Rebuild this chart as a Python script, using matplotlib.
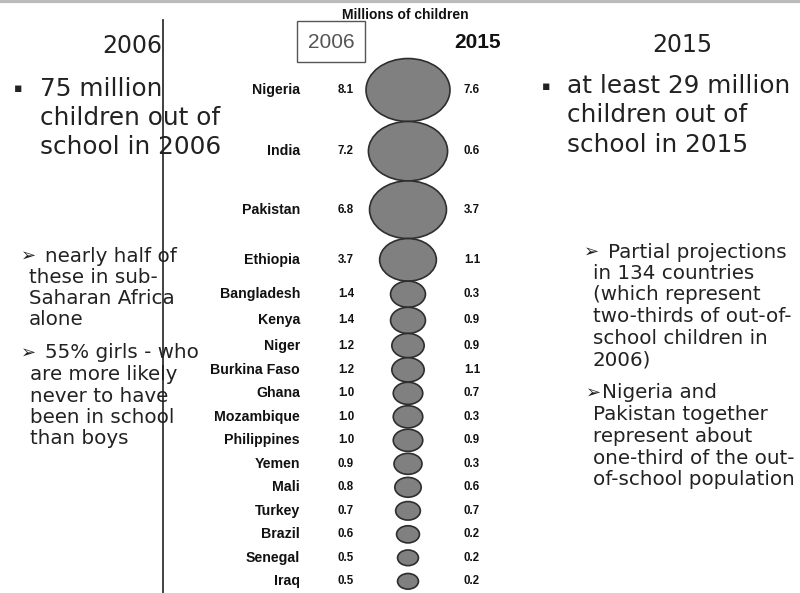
import numpy as np
import matplotlib.pyplot as plt
from matplotlib.patches import Ellipse, Rectangle

# dati: bambini fuori dalla scuola (milioni)
countries = ["Nigeria", "India", "Pakistan", "Ethiopia", "Bangladesh", "Kenya", "Niger",
             "Burkina Faso", "Ghana", "Mozambique", "Philippines", "Yemen", "Mali",
             "Turkey", "Brazil", "Senegal", "Iraq"]
oos_2006 = [8.1, 7.2, 6.8, 3.7, 1.4, 1.4, 1.2, 1.2, 1.0, 1.0, 1.0, 0.9, 0.8, 0.7, 0.6, 0.5, 0.5]
oos_2015 = [7.6, 0.6, 3.7, 1.1, 0.3, 0.9, 0.9, 1.1, 0.7, 0.3, 0.9, 0.3, 0.6, 0.7, 0.2, 0.2, 0.2]

title = "Millions of children"
year_a = "2006"
year_b = "2015"

left_main = ["75 million", "children out of", "school in 2006"]
left_sub1 = ["nearly half of", "these in sub-", "Saharan Africa", "alone"]
left_sub2 = ["55% girls - who", "are more likely", "never to have", "been in school", "than boys"]
right_main = ["at least 29 million", "children out of", "school in 2015"]
right_sub1 = ["Partial projections", "in 134 countries", "(which represent",
              "two-thirds of out-of-", "school children in", "2006)"]
right_sub2 = ["Nigeria and", "Pakistan together", "represent about",
              "one-third of the out-", "of-school population"]

side_font = ["DejaVu Sans"]
chart_font = ["Liberation Sans", "DejaVu Sans"]
txt_col = "#222222"

fig = plt.figure(figsize=(8, 5.93), dpi=100)
ax = fig.add_axes([0, 0, 1, 1])
ax.set_xlim(0, 800)
ax.set_ylim(593, 0)
ax.axis("off")


def block(lines, x_first, x_rest, y0, dy, size, marker=None, mx=None, msize=None):
    for i, line in enumerate(lines):
        ax.text(x_first if i == 0 else x_rest, y0 + i * dy, line, ha="left", va="center",
                fontsize=size, family=side_font, color=txt_col)
    if marker:
        ax.text(mx, y0, marker, ha="left", va="center", fontsize=msize or size,
                family=side_font, color=txt_col)


# bordo grigio della scansione
ax.plot([0, 800], [1, 1], color="#bbbbbb", lw=3)

# colonna sinistra
ax.text(132, 46, year_a, ha="center", va="center", fontsize=17, family=side_font, color=txt_col)
block(left_main, 40, 40, 89, 29, 17.8, "▪", 14, 9)
block(left_sub1, 45, 29, 256, 21.3, 14.3, "➢", 21, 13)
block(left_sub2, 45, 30, 353, 21.5, 14.3, "➢", 21, 13)
ax.plot([163, 163], [20, 593], color="#333333", lw=1.3)

# colonna destra
ax.text(682, 45, year_b, ha="center", va="center", fontsize=17, family=side_font, color=txt_col)
block(right_main, 567, 567, 86, 29.5, 17.8, "▪", 542, 9)
block(right_sub1, 608, 593, 252, 21.5, 14.3, "➢", 584, 13)
block(right_sub2, 602, 593, 393, 21.7, 14.3, "➢", 586, 13)

# grafico a bolle centrale
ax.text(405, 15, title, ha="center", va="center", fontsize=10, fontweight="bold",
        family=chart_font, color="#111111")
ax.add_patch(Rectangle((297, 21), 68, 41, fill=False, ec="#555555", lw=1))
ax.text(331, 43, year_a, ha="center", va="center", fontsize=15, family=chart_font, color="#555555")
ax.text(478, 43, year_b, ha="center", va="center", fontsize=15, fontweight="bold",
        family=chart_font, color="#111111")

widths = 29.5 * np.sqrt(oos_2006)
heights = 0.75 * widths
ys = [90.0]
for i in range(1, len(countries)):
    ys.append(ys[-1] + max((heights[i - 1] + heights[i]) / 2, 23.5))

for name, v06, v15, w, h, y in zip(countries, oos_2006, oos_2015, widths, heights, ys):
    ax.add_patch(Ellipse((408, y), w, h, fc="#808080", ec="#2e2e2e", lw=1.2))
    ax.text(300, y, name, ha="right", va="center", fontsize=10.2, fontweight="bold",
            family=chart_font, color="#111111")
    ax.text(346, y, f"{v06:.1f}", ha="center", va="center", fontsize=8.3, fontweight="bold",
            family=chart_font, color="#111111")
    ax.text(472, y, f"{v15:.1f}", ha="center", va="center", fontsize=8.3, fontweight="bold",
            family=chart_font, color="#111111")

fig.savefig("out.png", dpi=100)
